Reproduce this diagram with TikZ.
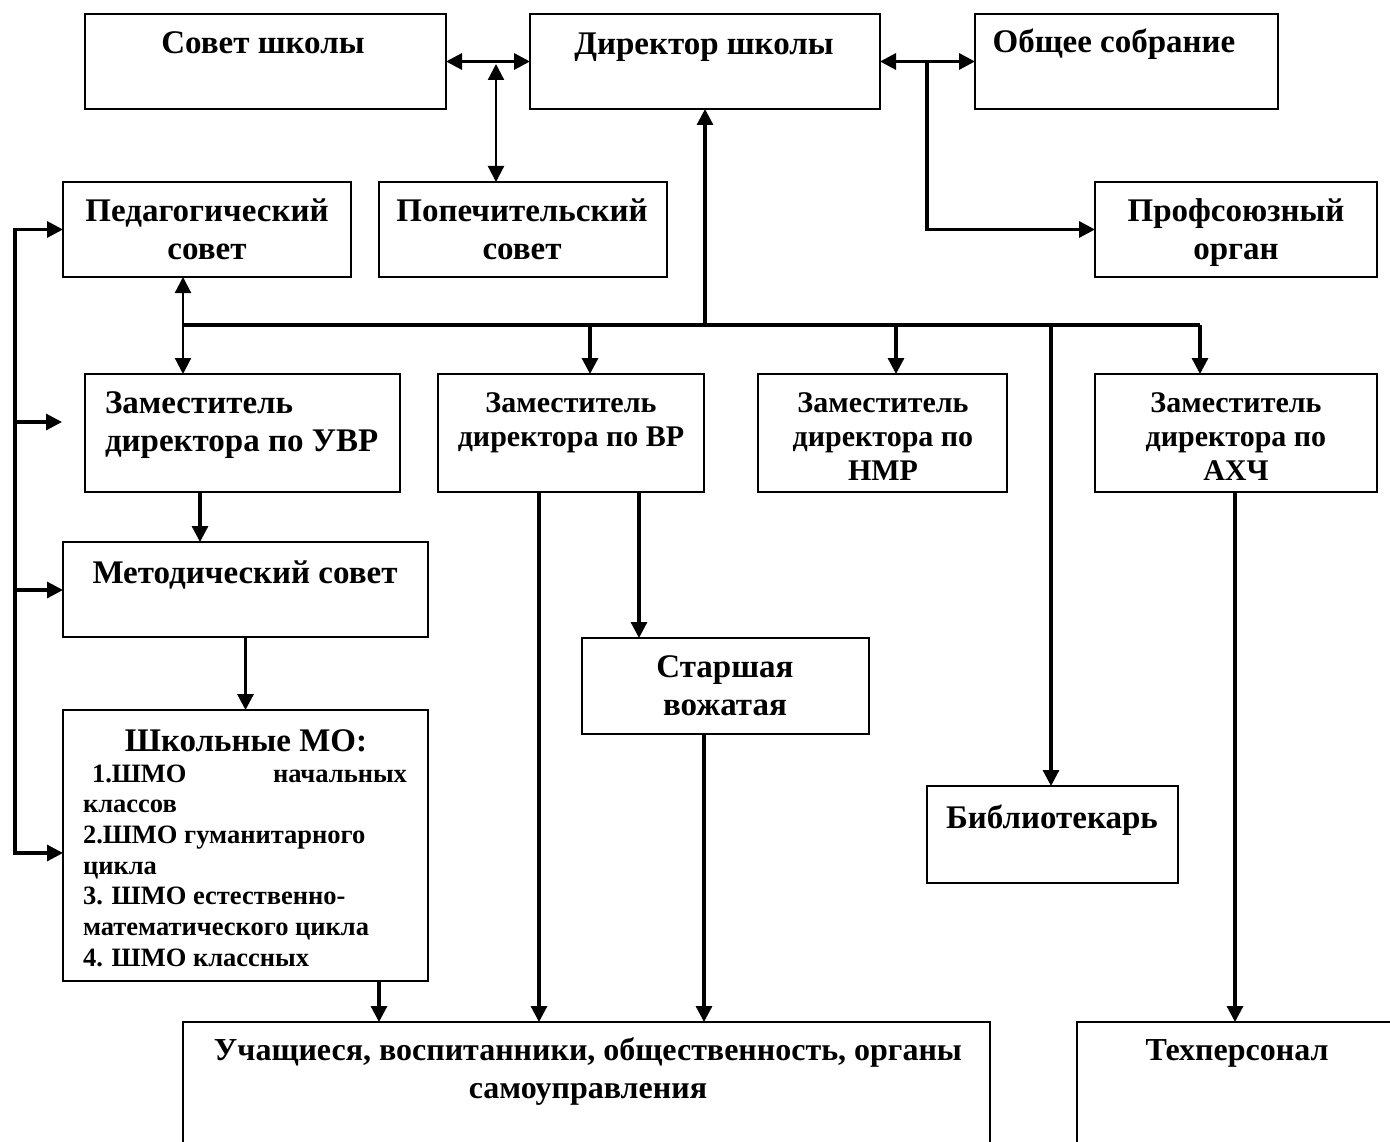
\documentclass[tikz,border=0pt]{standalone}
\usepackage{fontspec}
\setmainfont{Liberation Serif}
\usetikzlibrary{arrows.meta}
\tikzset{
  box/.style={draw, line width=2pt, rectangle, inner sep=0pt, outer sep=0pt, anchor=north west},
  lbl/.style={inner sep=0pt, outer sep=0pt, anchor=base, font=\bfseries\fontsize{33}{38}\selectfont},
  lblsm/.style={lbl, font=\bfseries\fontsize{30}{34}\selectfont},
  lblbottom/.style={lbl, font=\bfseries\fontsize{32}{38}\selectfont},
  lbllist/.style={inner sep=0pt, outer sep=0pt, anchor=base west, font=\bfseries\fontsize{26.5}{30.7}\selectfont},
  con/.style={line width=3.2pt, line join=miter},
  thinline/.style={line width=2.2pt},
  arr/.style={-{Triangle[length=16pt,width=16pt]}},
  darr/.style={{Triangle[length=16pt,width=16pt]}-{Triangle[length=16pt,width=16pt]}},
}
\newcommand\mkbox[5]{\node[box, minimum width={#4-#2}, minimum height={#5-#3}] (#1) at (#2,#3) {};}
\newcommand\ctwo[1]{\begin{tabular}[t]{@{}c@{}}#1\end{tabular}}
\newcommand\ltwo[1]{\begin{tabular}[t]{@{}l@{}}#1\end{tabular}}
\begin{document}
\begin{tikzpicture}[x=1pt,y=-1pt]
\useasboundingbox (0,0) rectangle (1390,1142);
\fill[white] (0,0) rectangle (1390,1142);
\clip (0,0) rectangle (1390,1142);

% boxes
\mkbox{sovet}{85}{14}{446}{109}
\mkbox{dir}{530}{14}{880}{109}
\mkbox{obsh}{975}{14}{1278}{109}
\mkbox{ped}{63}{182}{351}{277}
\mkbox{pop}{379}{182}{667}{277}
\mkbox{prof}{1095}{182}{1377}{277}
\mkbox{uvr}{85}{374}{400}{492}
\mkbox{vr}{438}{374}{704}{492}
\mkbox{nmr}{758}{374}{1007}{492}
\mkbox{ahch}{1095}{374}{1377}{492}
\mkbox{met}{63}{542}{428}{637}
\mkbox{vozh}{582}{638}{869}{734}
\mkbox{shmo}{63}{710}{428}{981}
\mkbox{bib}{927}{786}{1178}{883}
\mkbox{uch}{183}{1022}{990}{1175}
\mkbox{tech}{1077}{1022}{1420}{1175}

% texts
\node[lbl] (sovetT) at (263,54) {Совет школы};
\node[lbl] (dirT) at (704,55) {Директор школы};
\node[lbl] (obshT) at (1114,53) {Общее собрание};
\node[lbl] (pedT) at (207,222) {\ctwo{Педагогический\\совет}};
\node[lbl] (popT) at (522,222) {\ctwo{Попечительский\\совет}};
\node[lbl] (profT) at (1236,222) {\ctwo{Профсоюзный\\орган}};
\node[lbl, anchor=base west] (uvrT) at (105,413) {\ltwo{Заместитель\\директора по УВР}};
\node[lblsm] (vrT) at (571,412) {\ctwo{Заместитель\\директора по ВР}};
\node[lblsm] (nmrT) at (883,412) {\ctwo{Заместитель\\директора по\\НМР}};
\node[lblsm] (ahchT) at (1236,412) {\ctwo{Заместитель\\директора по\\АХЧ}};
\node[lbl] (metT) at (245,583) {Методический совет};
\node[lbl] (vozhT) at (725,677) {\ctwo{Старшая\\вожатая}};
\node[lbl] (shmoT) at (246,751) {Школьные МО:};
\node[lbllist] (shmoL) at (83,782) {\ltwo{\makebox[324pt][s]{\hspace{9pt}1.ШМО\hfill начальных}\\классов\\2.ШМО гуманитарного\\цикла\\3. ШМО естественно-\\математического цикла\\4. ШМО классных}};
\node[lbl] (bibT) at (1052,828) {Библиотекарь};
\node[lblbottom] (uchT) at (588,1060) {\ctwo{Учащиеся, воспитанники, общественность, органы\\самоуправления}};
\node[lblbottom] (techT) at (1237,1060) {Техперсонал};

% top connectors
\coordinate (j1) at (496,64);
\coordinate (j2) at (927,62);
\draw[con,darr] (sovet.east) -- (dir.west);
\draw[thinline,darr] (j1) -- (j1 |- pop.north);
\draw[con,darr] (dir.east) -- (obsh.west);
\draw[con,arr] (j2) |- (prof.west);

% bus
\coordinate (bl) at (183,325);
\coordinate (br) at (1200,325);
\coordinate (d1) at (590,325);
\coordinate (d2) at (896,325);
\coordinate (d3) at (1051,323);
\draw[con] (bl) -- (br);
\draw[con,arr] (dir.south |- bl) -- (dir.south);
\draw[thinline,darr] (ped.south -| bl) -- (uvr.north -| bl);
\draw[con,arr] (d1) -- (d1 |- vr.north);
\draw[con,arr] (d2) -- (d2 |- nmr.north);
\draw[con,arr] (d3) -- (d3 |- bib.north);
\draw[con,arr] (br) -- (br |- ahch.north);

% left bus
\coordinate (lt) at (15,229.5);
\coordinate (lb) at (15,853);
\coordinate (l2) at (15,422);
\coordinate (l2e) at (62,422);
\coordinate (l3) at (15,590);
\draw[con,arr] (lb) -- (lt) -- (ped.west);
\draw[con,arr] (lt) -- (lb) -- (lb -| shmo.west);
\draw[con,arr] (l2) -- (l2e);
\draw[con,arr] (l3) -- (l3 -| met.west);

% vertical links
\coordinate (x200) at (200,0);
\coordinate (x379) at (379,0);
\coordinate (x539) at (539,0);
\coordinate (x639) at (639,0);
\coordinate (x704) at (704,0);
\coordinate (x1235) at (1235,0);
\draw[con,arr] (uvr.south -| x200) -- (met.north -| x200);
\draw[con,arr] (met.south) -- (shmo.north);
\draw[con,arr] (shmo.south -| x379) -- (uch.north -| x379);
\draw[con,arr] (vr.south -| x539) -- (uch.north -| x539);
\draw[con,arr] (vr.south -| x639) -- (vozh.north -| x639);
\draw[con,arr] (vozh.south -| x704) -- (uch.north -| x704);
\draw[con,arr] (ahch.south -| x1235) -- (tech.north -| x1235);
\end{tikzpicture}
\end{document}
